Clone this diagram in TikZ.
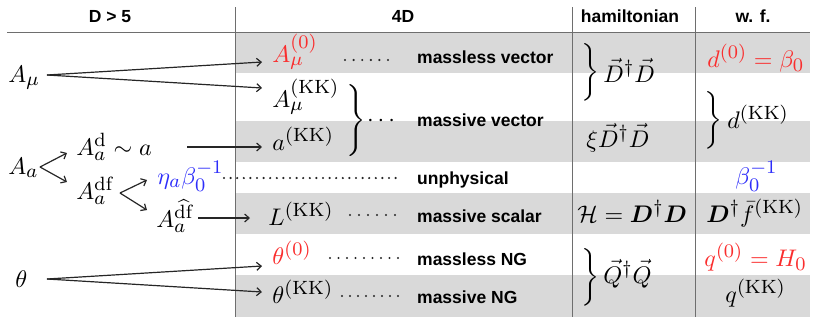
\documentclass[tikz,border=0pt]{standalone}
\usepackage{amsmath}
\usepackage[no-math]{fontspec}
\newfontfamily\labfont{Liberation Sans}
\usetikzlibrary{arrows.meta}
\definecolor{bandgray}{RGB}{217,217,217}
\definecolor{rulegray}{RGB}{110,110,110}
\definecolor{myred}{RGB}{250,45,45}
\definecolor{myblue}{RGB}{45,45,250}
\DeclareMathSizes{10}{10}{8}{6}
\newcommand{\bigbrace}[1]{\delimiterfactor=1000 \delimitershortfall=0pt $\left.\vcenter{\hbox{\rule{0pt}{#1}}}\right\}$}
\tikzset{
  mtxt/.style={font=\fontsize{10}{12}\selectfont, inner sep=0pt, anchor=base west, scale=2.4, transform shape},
  lab/.style={font=\labfont\bfseries\fontsize{17.5}{20}\selectfont, inner sep=0pt, anchor=base west},
  hdr/.style={font=\labfont\bfseries\fontsize{17.5}{20}\selectfont, inner sep=0pt, anchor=base},
  arr/.style={-{Straight Barb[length=4.5pt,width=8pt]}, line width=1.2pt, black!85},
  leader/.style={line width=2.4pt, line cap=round, dash pattern=on 0pt off #1, black!85},
  band/.style={fill=bandgray, draw=none},
  rulel/.style={draw=rulegray, line width=1pt},
  brc/.style={font=\fontsize{10}{12}\selectfont, inner sep=0pt, anchor=west, scale=2.4, transform shape},
}
\begin{document}
\begin{tikzpicture}[x=1pt,y=-1pt]
\useasboundingbox (0,0) rectangle (818,325);
% bands
\fill[band] (235,33) rectangle (810,73);
\fill[band] (235,121) rectangle (810,162);
\fill[band] (235,193) rectangle (810,234);
\fill[band] (235,275) rectangle (810,317);
% rules
\draw[rulel] (7,32) -- (810,32);
\draw[rulel] (235,7) -- (235,317);
\draw[rulel] (572,7) -- (572,317);
\draw[rulel] (695,7) -- (695,317);
% headers
\node[hdr] (h1) at (110,22) {D > 5};
\node[hdr] (h2) at (403,22) {4D};
\node[hdr] (h3) at (630,22) {hamiltonian};
\node[hdr] (h4) at (753,22) {w. f.};
% left column
\node[mtxt] (Amu) at (8,82) {$A_\mu$};
\node[mtxt] (Aa) at (8,174) {$A_a$};
\node[mtxt] (th) at (15,287) {$\theta$};
\node[mtxt] (Ad) at (76,155) {$A_a^{\mathrm{d}}\sim a$};
\node[mtxt] (Adf) at (76,199) {$A_a^{\mathrm{df}}$};
\node[mtxt, text=myblue] (eta) at (157,184) {$\eta_a\beta_0^{-1}$};
\node[mtxt] (Ahdf) at (156,227) {$A_a^{\widehat{\mathrm{df}}}$};
% 4D column
\node[mtxt, text=myred] (A0) at (272,62) {$A_\mu^{(0)}$};
\node[mtxt] (AKK) at (272,107) {$A_\mu^{(\mathrm{KK})}$};
\node[mtxt] (aKK) at (272,150) {$a^{(\mathrm{KK})}$};
\node[mtxt] (LKK) at (268,225) {$L^{(\mathrm{KK})}$};
\node[mtxt, text=myred] (th0) at (272,264) {$\theta^{(0)}$};
\node[mtxt] (thKK) at (272,303) {$\theta^{(\mathrm{KK})}$};
\node[brc] (b1) at (343,121) {\bigbrace{27.5pt}};
\node[mtxt, anchor=center] (cd) at (383,121) {$\cdots$};
% labels
\node[lab] (l1) at (417,63) {massless vector};
\node[lab] (l2) at (417,126) {massive vector};
\node[lab] (l3) at (417,184) {unphysical};
\node[lab] (l4) at (417,222) {massive scalar};
\node[lab] (l5) at (417,265) {massless NG};
\node[lab] (l6) at (417,303) {massive NG};
% hamiltonian
\node[brc] (b2) at (578,72) {\bigbrace{23pt}};
\node[mtxt] (H1) at (603,82) {$\vec D^\dagger\vec D$};
\node[mtxt] (H2) at (586,147) {$\xi\vec D^\dagger\vec D$};
\node[mtxt] (H3) at (577,222) {$\mathcal H=\boldsymbol{D}^\dagger\boldsymbol{D}$};
\node[brc] (b4) at (578,277) {\bigbrace{23.5pt}};
\node[mtxt] (H4) at (603,283) {$\vec Q^\dagger\vec Q$};
% w.f.
\node[mtxt, text=myred] (W1) at (707,67) {$d^{(0)}=\beta_0$};
\node[brc] (b3) at (701,120) {\bigbrace{23.5pt}};
\node[mtxt] (W2) at (727,128) {$d^{(\mathrm{KK})}$};
\node[mtxt, text=myblue] (W3) at (735,184) {$\beta_0^{-1}$};
\node[mtxt] (W4) at (706,222) {$\boldsymbol{D}^\dagger\bar f^{(\mathrm{KK})}$};
\node[mtxt, text=myred] (W5) at (704,266) {$q^{(0)}=H_0$};
\node[mtxt] (W6) at (725,302) {$q^{(\mathrm{KK})}$};
% arrow coordinates
\coordinate (Amu-o) at (47,75);
\coordinate (A0-i) at (262,62);
\coordinate (AKK-i) at (262,88);
\coordinate (Ad-o) at (187,147);
\coordinate (aKK-i) at (262,147);
\coordinate (Aa-o) at (40,167);
\coordinate (Ad-i) at (67,153);
\coordinate (Adf-i) at (67,182);
\coordinate (Adf-o) at (120,193);
\coordinate (eta-i) at (147,180);
\coordinate (Ahdf-i) at (147,210);
\coordinate (Ahdf-o) at (198,218);
\coordinate (LKK-i) at (250,218);
\coordinate (th-o) at (47,279);
\coordinate (th0-i) at (262,266);
\coordinate (thKK-i) at (262,292);
\draw[arr] (Amu-o) -- (A0-i);
\draw[arr] (Amu-o) -- (AKK-i);
\draw[arr] (Ad-o) -- (aKK-i);
\draw[arr] (Aa-o) -- (Ad-i);
\draw[arr] (Aa-o) -- (Adf-i);
\draw[arr] (Adf-o) -- (eta-i);
\draw[arr] (Adf-o) -- (Ahdf-i);
\draw[arr] (Ahdf-o) -- (LKK-i);
\draw[arr] (th-o) -- (th0-i);
\draw[arr] (th-o) -- (thKK-i);
% leaders
\draw[leader=8.6pt] (345,60) -- (388.5,60);
\draw[leader=6.6pt] (224,178) -- (398.5,178);
\draw[leader=9pt] (350,215) -- (395.5,215);
\draw[leader=8.5pt] (330,258) -- (398.5,258);
\draw[leader=8pt] (342,296) -- (398.5,296);
\end{tikzpicture}
\end{document}
